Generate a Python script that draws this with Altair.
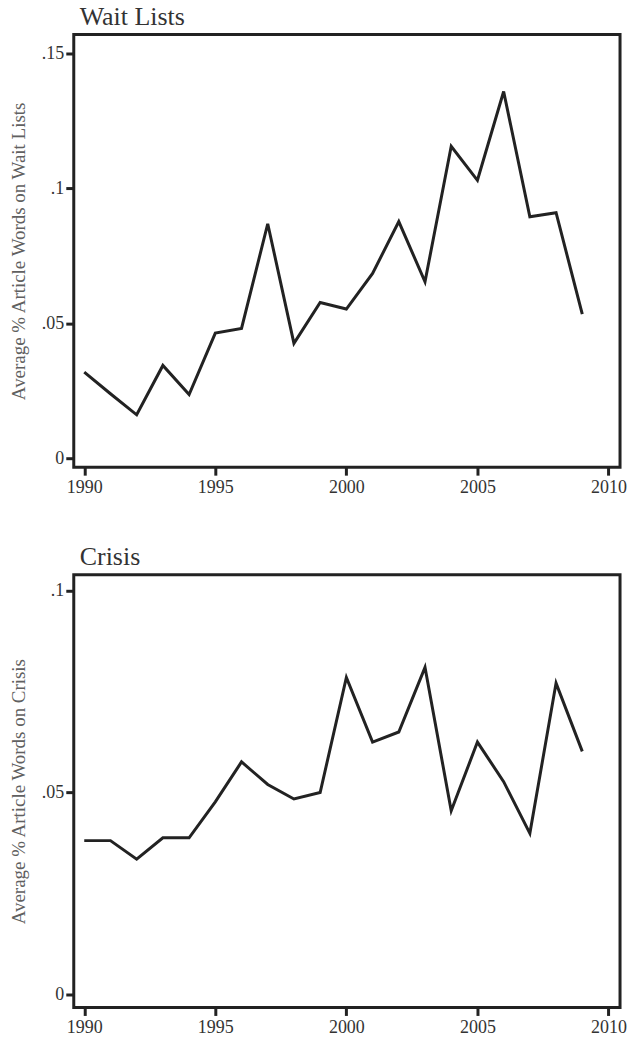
import altair as alt
import pandas as pd

# Annual averages, 1990-2009
years = list(range(1990, 2010))

wait_lists = [0.0319, 0.0239, 0.0161, 0.0344, 0.0236, 0.0464, 0.0481, 0.0869,
              0.0426, 0.0577, 0.0553, 0.0685, 0.0877, 0.0654, 0.1156, 0.1030,
              0.1359, 0.0895, 0.0910, 0.0534]

crisis = [0.0381, 0.0381, 0.0335, 0.0388, 0.0388, 0.0477, 0.0576, 0.0520,
          0.0484, 0.0500, 0.0785, 0.0625, 0.0650, 0.0810, 0.0455, 0.0625,
          0.0527, 0.0399, 0.0771, 0.0602]

x_ticks = [1990, 1995, 2000, 2005, 2010]
wait_ticks = [0, 0.05, 0.1, 0.15]
crisis_ticks = [0, 0.05, 0.1]

SERIF = "Liberation Serif"
INK = "#222222"

# Stata-style labels: ".15", ".1", ".05", "0"
Y_LABEL = "datum.value == 0 ? '0' : slice(format(datum.value, '.2~f'), 1)"


def axis(**kw):
    return alt.Axis(
        domain=False, grid=False, ticks=True, tickSize=8, tickWidth=3,
        tickColor=INK, labelFont=SERIF, labelFontSize=18, labelColor="#333333",
        titleFont=SERIF, titleFontWeight="normal", **kw,
    )


def panel(values, title, ytitle, ydomain, yticks):
    df = pd.DataFrame({"year": years, "value": values})
    return (
        alt.Chart(df)
        .mark_line(color=INK, strokeWidth=3, strokeJoin="miter")
        .encode(
            x=alt.X(
                "year:Q",
                scale=alt.Scale(domain=[1989.6, 2010.44], nice=False, zero=False),
                axis=axis(values=x_ticks, format="d", title=None, labelPadding=3),
            ),
            y=alt.Y(
                "value:Q",
                scale=alt.Scale(domain=ydomain, nice=False, zero=False),
                axis=axis(
                    values=yticks, labelExpr=Y_LABEL, title=ytitle, labelPadding=2,
                    titleFontSize=19, titleColor="#606060", titlePadding=13,
                ),
            ),
        )
        .properties(
            width=548,
            height=434,
            title=alt.TitleParams(
                title, anchor="start", frame="group", fontSize=26,
                font=SERIF, fontWeight="normal", color="#333333", dx=6, offset=5,
            ),
        )
    )


top = panel(wait_lists, "Wait Lists", "Average % Article Words on Wait Lists",
            [-0.0033, 0.157], wait_ticks)
bottom = panel(crisis, "Crisis", "Average % Article Words on Crisis",
               [-0.0032, 0.1039], crisis_ticks)

chart = (
    alt.vconcat(top, bottom, spacing=44)
    .properties(background="white", padding={"left": 8, "top": 0, "right": 0, "bottom": 5})
    .configure_view(stroke=INK, strokeWidth=3)
)

chart.save("out.html", embed_options={"renderer": "svg", "actions": False})
